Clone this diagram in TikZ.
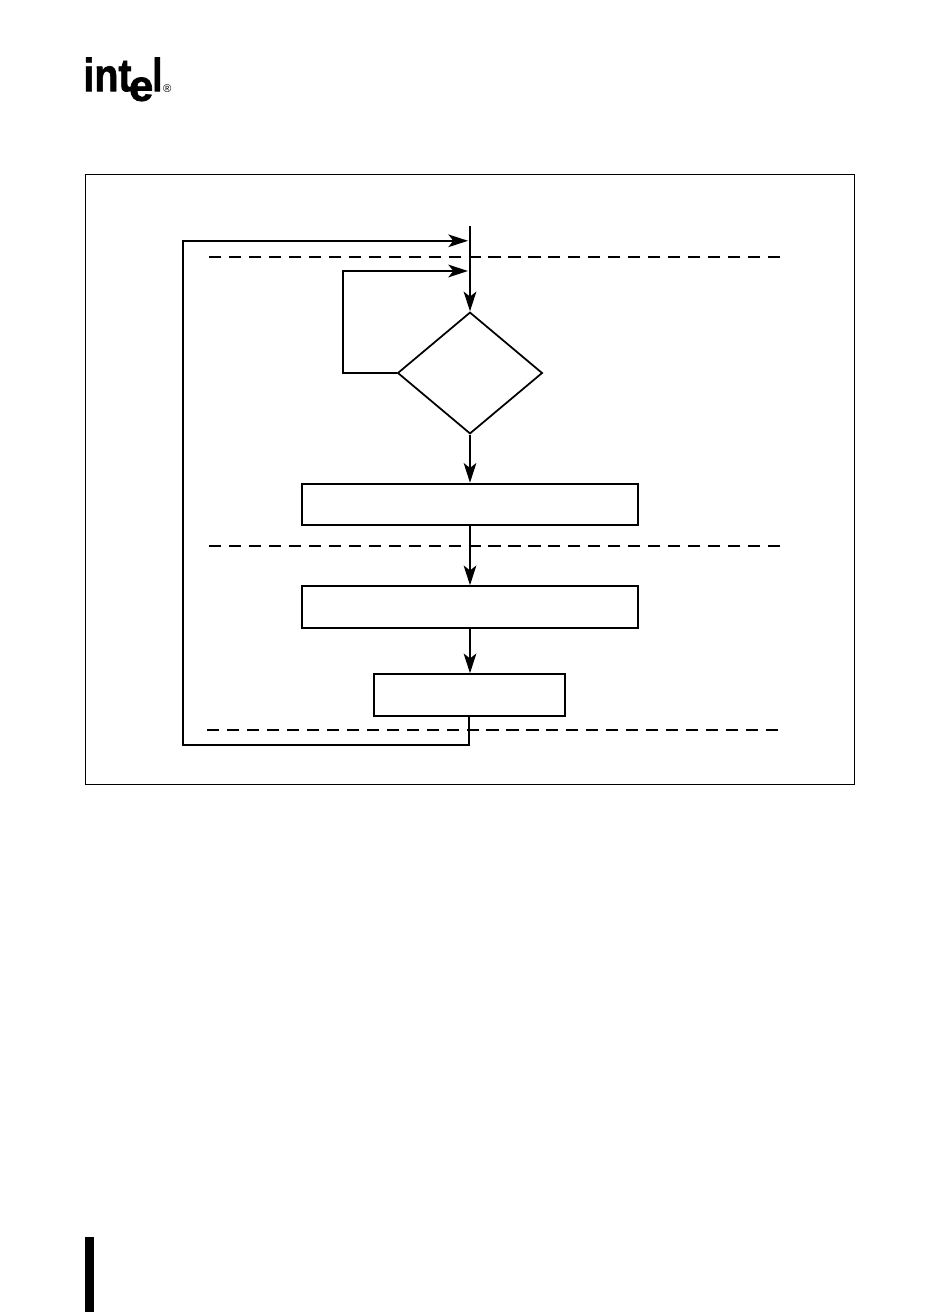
\documentclass[tikz,border=0pt]{standalone}
\usepackage{fontspec}
\setsansfont[BoldFeatures={FakeBold=1.6}]{Liberation Sans}
\usepackage{xcolor}
\usepackage{tikz}
\usetikzlibrary{arrows.meta, positioning, shapes.geometric, calc}

\begin{document}
\begin{tikzpicture}[
    font=\sffamily,
    outer/.style={rectangle, draw=black, line width=0.6pt, inner sep=0pt, minimum width=19.23cm, minimum height=15.25cm},
    stepbox/.style={rectangle, draw=black, line width=1.4pt, inner sep=0pt, minimum width=#1, minimum height=1.04cm},
    test/.style={diamond, draw=black, line width=1.25pt, inner sep=0pt, minimum width=3.62cm, minimum height=3.04cm},
    flow/.style={-{Stealth[length=14pt, width=9pt, inset=3.5pt]}, line width=1.4pt, color=black},
    sepline/.style={draw=black, line width=1.3pt, dash pattern=on 8.6pt off 5.6pt},
    logo/.style={inner sep=0pt, anchor=base west, font=\sffamily\bfseries\fontsize{#1}{#1}\selectfont}
]
    \useasboundingbox (0, 0) rectangle (23.4, -32.8);

    % Logo and change bar
    \node[logo=33, xscale=0.85] (logoint) at (2.08, -2.28) {int};
    \node[logo=31] (logoe) at (3.22, -2.52) {e};
    \node[logo=33, xscale=0.8] (logol) at (3.8, -2.28) {l};
    \node[inner sep=0pt, font=\sffamily\fontsize{8}{8}\selectfont] (logoreg) at (4.18, -2.21) {\textregistered};
    \node[rectangle, fill=black, inner sep=0pt, minimum width=0.225cm, minimum height=1.875cm] (bar) at (2.237, -31.862) {};

    % Frame
    \node[outer] (frame) at (11.75, -11.987) {};

    % Flow nodes
    \node[test] (check) at (11.75, -9.325) {};
    \node[stepbox=8.4cm] (first) at (11.75, -12.612) {};
    \node[stepbox=8.4cm] (second) at (11.75, -15.175) {};
    \node[stepbox=4.775cm] (third) at (11.7375, -17.375) {};

    % Separators
    \draw[sepline] (5.225, -6.425) -- (19.55, -6.425);
    \draw[sepline] (5.225, -13.65) -- (19.55, -13.65);
    \draw[sepline] (5.175, -18.25) -- (19.5, -18.25);

    % Free ends
    \coordinate (entry) at (11.75, -5.65);
    \coordinate (outerjoin) at (11.75, -6.02);
    \coordinate (innerjoin) at (11.75, -6.775);
    \coordinate (outertop) at (4.575, -6.02);
    \coordinate (outerbot) at (4.575, -18.625);
    \coordinate (thirdbot) at (11.725, -18.625);
    \coordinate (thirdout) at (11.725, -17.9);
    \coordinate (innertop) at (8.575, -6.775);
    \coordinate (innerbot) at (8.575, -9.325);

    % Connectors
    \draw[flow] (entry) -- (check.north);
    \draw[flow] (check.south) -- (first.north);
    \draw[flow] (first.south) -- (second.north);
    \draw[flow] (second.south) -- (second.south |- third.north);
    \draw[flow, shorten >=1.4pt] (check.west) -- (innerbot) -- (innertop) -- (innerjoin);
    \draw[flow, shorten >=1.4pt] (thirdout) -- (thirdbot) -- (outerbot) -- (outertop) -- (outerjoin);

\end{tikzpicture}
\end{document}
